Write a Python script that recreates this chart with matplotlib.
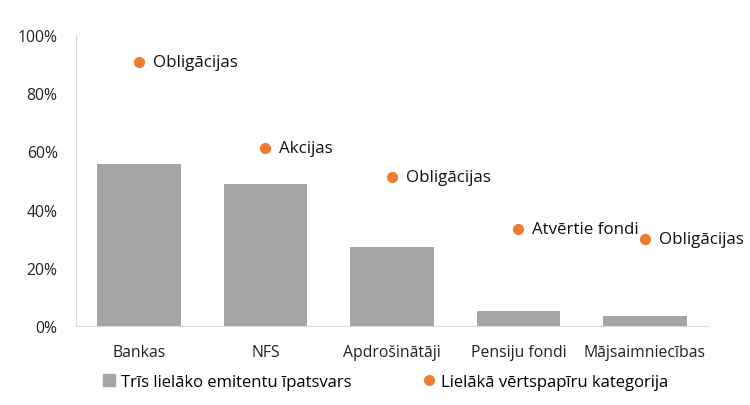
import numpy as np
import matplotlib.pyplot as plt
from matplotlib.ticker import PercentFormatter
from matplotlib.lines import Line2D

plt.rcParams['font.family'] = ['Open Sans', 'DejaVu Sans']

kategorijas = ['Bankas', 'NFS', 'Apdrošinātāji', 'Pensiju fondi', 'Mājsaimniecības']
ipatsvars = [55.7, 48.8, 27.1, 5.2, 3.4]
lielaka = [90.7, 61.2, 51.2, 33.3, 29.9]
lielaka_nos = ['Obligācijas', 'Akcijas', 'Obligācijas', 'Atvērtie fondi', 'Obligācijas']

fig = plt.figure(figsize=(7.5, 4.06), dpi=100)
ax = fig.add_axes([0.101, 0.195, 0.843, 0.716])

x = np.arange(len(kategorijas))
ax.bar(x, ipatsvars, width=0.66, color='#a5a5a5', zorder=2)
ax.scatter(x, lielaka, s=50, color='#ed7d31', zorder=3)
for xi, yi, t in zip(x, lielaka, lielaka_nos):
    ax.text(xi + 0.11, yi, t, va='center', ha='left', fontsize=12.2, color='#111111')

ax.set_xlim(-0.5, len(kategorijas) - 0.5)
ax.set_ylim(0, 100)
ax.set_yticks(np.arange(0, 101, 20))
ax.yaxis.set_major_formatter(PercentFormatter(decimals=0))
ax.set_xticks(x)
ax.set_xticklabels(kategorijas)
ax.tick_params(length=0, labelsize=11.3, colors='#222222')
ax.tick_params(axis='x', pad=13)
ax.tick_params(axis='y', pad=13)
for s in ['top', 'right']:
    ax.spines[s].set_visible(False)
for s in ['left', 'bottom']:
    ax.spines[s].set_color('#d9d9d9')

h1 = Line2D([], [], marker='s', linestyle='none', color='#a5a5a5', markersize=9)
h2 = Line2D([], [], marker='o', linestyle='none', color='#ed7d31', markersize=7)
fig.legend([h1, h2], ['Trīs lielāko emitentu īpatsvars', 'Lielākā vērtspapīru kategorija'],
           loc='lower left', bbox_to_anchor=(0.118, 0.0), ncol=2, frameon=False,
           fontsize=12, handlelength=0.7, handletextpad=0.35, columnspacing=4.3)

fig.savefig('out.png', dpi=100)
